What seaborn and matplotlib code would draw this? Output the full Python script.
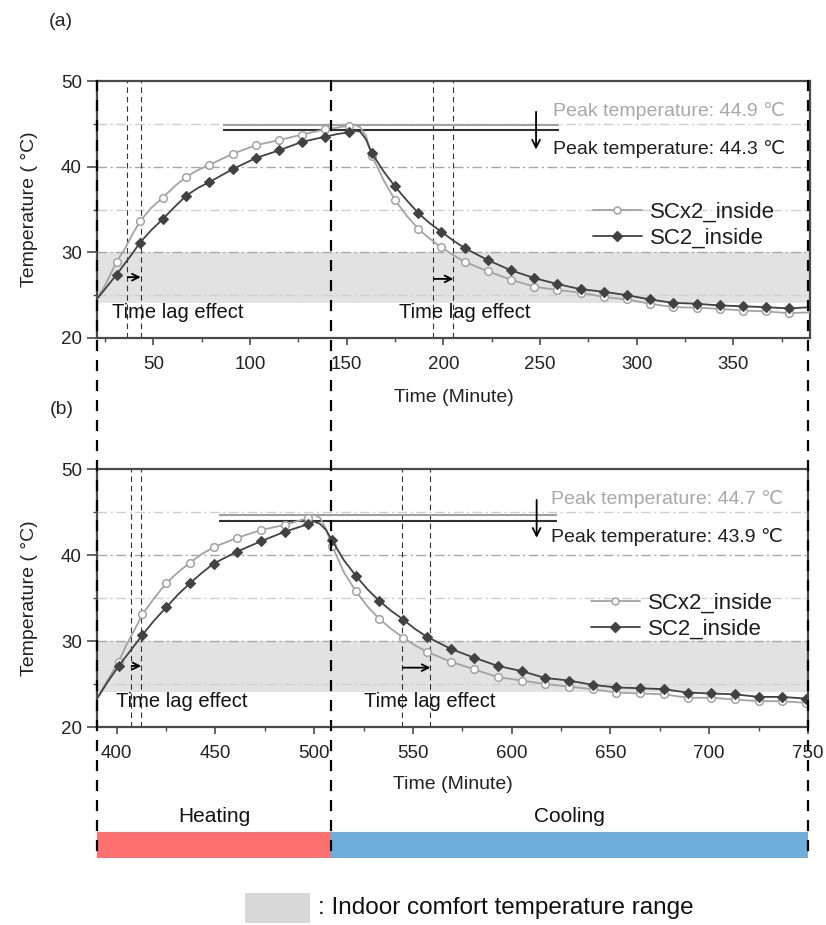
import numpy as np
import pandas as pd
import matplotlib
matplotlib.use("Agg")
import matplotlib.pyplot as plt
import seaborn as sns
from matplotlib.lines import Line2D
from matplotlib.patches import Rectangle
from matplotlib.ticker import MultipleLocator

# ---------------- data ----------------
time_a = [21, 25, 31, 35, 39, 43, 49, 55, 61, 67, 73, 79, 91, 103, 115, 127, 139, 145, 151, 154,
          157, 160, 163, 169, 175, 181, 187, 193, 199, 205, 211, 223, 235, 247, 259, 271, 283, 295,
          307, 319, 331, 343, 355, 367, 379, 390]
scx2_a = [24.6, 26.1, 28.9, 30.3, 32.0, 33.6, 35.2, 36.4, 37.7, 38.8, 39.6, 40.2, 41.5, 42.5, 43.1,
          43.75, 44.35, 44.55, 44.8, 44.9, 44.6, 43.6, 41.3, 38.5, 36.1, 34.3, 32.75, 31.6, 30.6,
          29.7, 28.9, 27.8, 26.8, 26.0, 25.6, 25.3, 24.8, 24.5, 24.0, 23.6, 23.55, 23.4, 23.2,
          23.1, 22.9, 23.0]
sc2_a = [24.6, 25.7, 27.4, 28.6, 29.8, 31.1, 32.6, 33.9, 35.3, 36.6, 37.5, 38.2, 39.7, 41.0, 41.9,
         42.9, 43.5, 43.8, 44.0, 44.2, 44.1, 43.2, 41.6, 39.5, 37.7, 36.1, 34.6, 33.4, 32.4, 31.4,
         30.5, 29.1, 27.9, 27.0, 26.3, 25.7, 25.4, 25.0, 24.5, 24.1, 24.0, 23.8, 23.7, 23.6,
         23.45, 23.6]

time_b = [390, 395, 401, 405, 409, 413, 419, 425, 431, 437, 443, 449, 461, 473, 485, 497, 500, 503,
          506, 509, 515, 521, 527, 533, 539, 545, 551, 557, 569, 581, 593, 605, 617, 629, 641, 653,
          665, 677, 689, 701, 713, 725, 737, 749]
scx2_b = [23.3, 25.3, 27.6, 29.6, 31.3, 33.1, 35.0, 36.7, 38.0, 39.1, 40.1, 40.9, 42.0, 42.9, 43.5,
          44.3, 44.7, 44.3, 43.0, 41.1, 38.0, 35.8, 34.0, 32.55, 31.4, 30.4, 29.5, 28.75, 27.6,
          26.7, 25.8, 25.4, 25.0, 24.7, 24.4, 24.0, 23.9, 23.8, 23.4, 23.4, 23.2, 23.0, 23.0, 22.8]
sc2_b = [23.3, 25.1, 27.1, 28.3, 29.5, 30.7, 32.4, 33.9, 35.4, 36.7, 37.9, 39.0, 40.4, 41.6, 42.7,
         43.6, 43.9, 43.6, 42.9, 41.7, 39.4, 37.6, 36.0, 34.65, 33.5, 32.5, 31.4, 30.5, 29.1,
         28.05, 27.1, 26.5, 25.7, 25.4, 24.9, 24.6, 24.5, 24.4, 24.0, 23.9, 23.8, 23.5, 23.5, 23.3]

series_names = ["SCx2_inside", "SC2_inside"]
marker_start_a = 31
marker_start_b = 401
marker_step = 12

peak_a = [44.9, 44.3]
peak_b = [44.7, 43.9]
peak_line_a = [86, 260]
peak_line_b = [452, 623]
lag_heat_a = [36.5, 43.5]
lag_cool_a = [194.8, 205.2]
lag_heat_b = [407.3, 412.4]
lag_cool_b = [544.5, 558.8]
comfort_range = [24.1, 30]
phases = ["Heating", "Cooling"]
phase_bounds_b = [390, 508.5, 750]
xlim_a = (20.9, 389.7)
xlim_b = (390, 750)

# ---------------- style ----------------
sns.set_style("white")
plt.rcParams["font.family"] = ["Liberation Sans", "DejaVu Sans"]

LIGHT = "#a3a3a3"
DARK = "#424242"
SPINE = "#4a4a4a"

fig = plt.figure(figsize=(8.26, 9.25), dpi=100)
W, H = 826, 925


def fr(x0, y_top, x1, y_bot):
    return [x0 / W, 1 - y_bot / H, (x1 - x0) / W, (y_bot - y_top) / H]


ax_a = fig.add_axes(fr(97, 81, 810, 338))
ax_b = fig.add_axes(fr(97, 469, 808, 727))
ax_bar = fig.add_axes(fr(97, 832, 808, 858))


def draw_panel(ax, t, light, dark, mstart, xlim, peaks, peak_line, lag_h, lag_c,
               lag_text_x, arrow_x, xmajor):
    ax.set_xlim(*xlim)
    ax.set_ylim(20, 50)
    # comfort band
    ax.axhspan(comfort_range[0], comfort_range[1], color="#e2e2e2", lw=0, zorder=0)
    # grid lines
    for yv in [25, 30, 35, 40, 45]:
        c = "#a8a8a8" if yv in (30, 40) else "#cfcfcf"
        ax.axhline(yv, color=c, lw=1.0, ls=(0, (7, 2.5, 1.5, 2.5)), zorder=1)

    df = pd.DataFrame({"t": t, series_names[0]: light, series_names[1]: dark})
    idx = [i for i, v in enumerate(t) if v >= mstart and (v - mstart) % marker_step == 0]
    sns.lineplot(data=df, x="t", y=series_names[0], ax=ax, color=LIGHT, lw=1.3,
                 marker="o", markersize=5.5, markerfacecolor="white",
                 markeredgecolor=LIGHT, markeredgewidth=1.1, markevery=idx,
                 estimator=None, sort=False, zorder=4)
    sns.lineplot(data=df, x="t", y=series_names[1], ax=ax, color=DARK, lw=1.3,
                 marker="D", markersize=5.5, markerfacecolor=DARK,
                 markeredgecolor=DARK, markeredgewidth=0.8, markevery=idx,
                 estimator=None, sort=False, zorder=5)

    # peak lines & annotation
    ax.hlines(peaks[0], peak_line[0], peak_line[1], color="#a0a0a0", lw=1.5, zorder=3)
    ax.hlines(peaks[1], peak_line[0], peak_line[1], color="#303030", lw=1.5, zorder=3)
    ax.annotate("", xy=(arrow_x, 42.0), xytext=(arrow_x, 46.4),
                arrowprops=dict(arrowstyle="->", lw=1.3, color="black",
                                mutation_scale=14, shrinkA=0, shrinkB=0), zorder=6)
    tx = peak_line[1] - 3
    ax.text(tx, 46.5, f"Peak temperature: {peaks[0]} \u2103", color="#a8a8a8",
            fontsize=14, va="center", ha="left")
    ax.text(tx, 42.1, f"Peak temperature: {peaks[1]} \u2103", color="#1e1e1e",
            fontsize=14, va="center", ha="left")

    # time lag lines and arrows
    for pair, ya in [(lag_h, 27.1), (lag_c, 26.9)]:
        for xv in pair:
            ax.axvline(xv, color="#333333", lw=0.8, ls=(0, (5, 3.5)), zorder=2)
        ax.annotate("", xy=(pair[1], ya), xytext=(pair[0] + 0.3, ya),
                    arrowprops=dict(arrowstyle="->", lw=1.3, color="black",
                                    mutation_scale=12, shrinkA=0, shrinkB=0), zorder=6)
    for xv in lag_text_x:
        ax.text(xv, 22.95, "Time lag effect", fontsize=14.5, color="#111111",
                ha="left", va="center", zorder=6)

    # legend
    handles = [
        Line2D([], [], color=LIGHT, lw=1.3, marker="o", markersize=5, markerfacecolor="white",
               markeredgecolor=LIGHT, markeredgewidth=1.1),
        Line2D([], [], color=DARK, lw=1.3, marker="D", markersize=5.5, markerfacecolor=DARK,
               markeredgecolor=DARK),
    ]
    leg = ax.legend(handles, series_names, loc="upper left", frameon=False, fontsize=16,
                    handlelength=2.2, handletextpad=0.35, labelspacing=0.22,
                    borderpad=0, borderaxespad=0,
                    bbox_to_anchor=((593 - 97) / 713, 0.53))
    for txt in leg.get_texts():
        txt.set_color("#1e1e1e")

    # axes styling
    ax.xaxis.set_major_locator(MultipleLocator(xmajor))
    ax.xaxis.set_minor_locator(MultipleLocator(xmajor / 2))
    ax.yaxis.set_major_locator(MultipleLocator(10))
    ax.yaxis.set_minor_locator(MultipleLocator(5))
    ax.tick_params(axis="x", which="major", direction="out", length=5, width=1.2,
                   pad=8, labelsize=13.5, colors=SPINE, labelcolor="#222222", bottom=True)
    ax.tick_params(axis="x", which="minor", direction="out", length=3, width=1.0,
                   colors=SPINE, bottom=True)
    ax.tick_params(axis="y", which="major", direction="out", length=7, width=1.2,
                   pad=4, labelsize=13.5, colors=SPINE, labelcolor="#222222", left=True)
    ax.tick_params(axis="y", which="minor", direction="out", length=3, width=1.0,
                   colors=SPINE, left=True)
    for s in ax.spines.values():
        s.set_color(SPINE)
        s.set_linewidth(1.6)
        s.set_visible(True)
    ax.set_ylabel("Temperature ( \u00b0C)", fontsize=14, color="#222222")
    ax.set_xlabel("Time (Minute)", fontsize=14, color="#222222")
    ax.yaxis.set_label_coords(-0.083, 0.5)


draw_panel(ax_a, time_a, scx2_a, sc2_a, marker_start_a, xlim_a, peak_a, peak_line_a,
           lag_heat_a, lag_cool_a, [28.6, 177], 248, 50)
ax_a.xaxis.set_label_coords(0.5, -0.2)

draw_panel(ax_b, time_b, scx2_b, sc2_b, marker_start_b, xlim_b, peak_b, peak_line_b,
           lag_heat_b, lag_cool_b, [399.4, 525], 612.6, 50)
ax_b.xaxis.set_label_coords(0.5, -0.19)
ax_b.get_legend().set_bbox_to_anchor(((591 - 97) / 711, 0.52), transform=ax_b.transAxes)

# phase bar
ax_bar.set_xlim(*xlim_b)
ax_bar.set_ylim(-0.5, 0.5)
phase_colors = ["#ff7070", "#6fadda"]
for i, name in enumerate(phases):
    x0, x1 = phase_bounds_b[i], phase_bounds_b[i + 1]
    ax_bar.barh(0, x1 - x0, left=x0, height=1.0, color=phase_colors[i], lw=0)
    ax_bar.text((x0 + x1) / 2, 1.6, name, fontsize=15, ha="center", va="center",
                color="#111111", transform=ax_bar.get_xaxis_transform())
ax_bar.axis("off")

# long dashed phase separators across the figure
fig.canvas.draw()
inv = fig.transFigure.inverted()
for xb in phase_bounds_b:
    xd = ax_b.transData.transform((xb, 20))[0]
    xf = inv.transform((xd, 0))[0]
    fig.add_artist(Line2D([xf, xf], [1 - 80 / H, 1 - 860 / H], transform=fig.transFigure,
                          color="black", lw=1.6, ls=(0, (5, 4)), zorder=10))

# panel tags
fig.text(61 / W, 1 - 22 / H, "(a)", fontsize=14, ha="center", va="center")
fig.text(62 / W, 1 - 410 / H, "(b)", fontsize=14, ha="center", va="center")

# comfort legend
fig.add_artist(Rectangle((245 / W, 1 - 923 / H), 65 / W, 30 / H, transform=fig.transFigure,
                         facecolor="#d8d8d8", edgecolor="none"))
fig.text(318 / W, 1 - 908 / H, ": Indoor comfort temperature range", fontsize=17.5,
         ha="left", va="center", color="#111111")

fig.savefig("out.png", dpi=100)
